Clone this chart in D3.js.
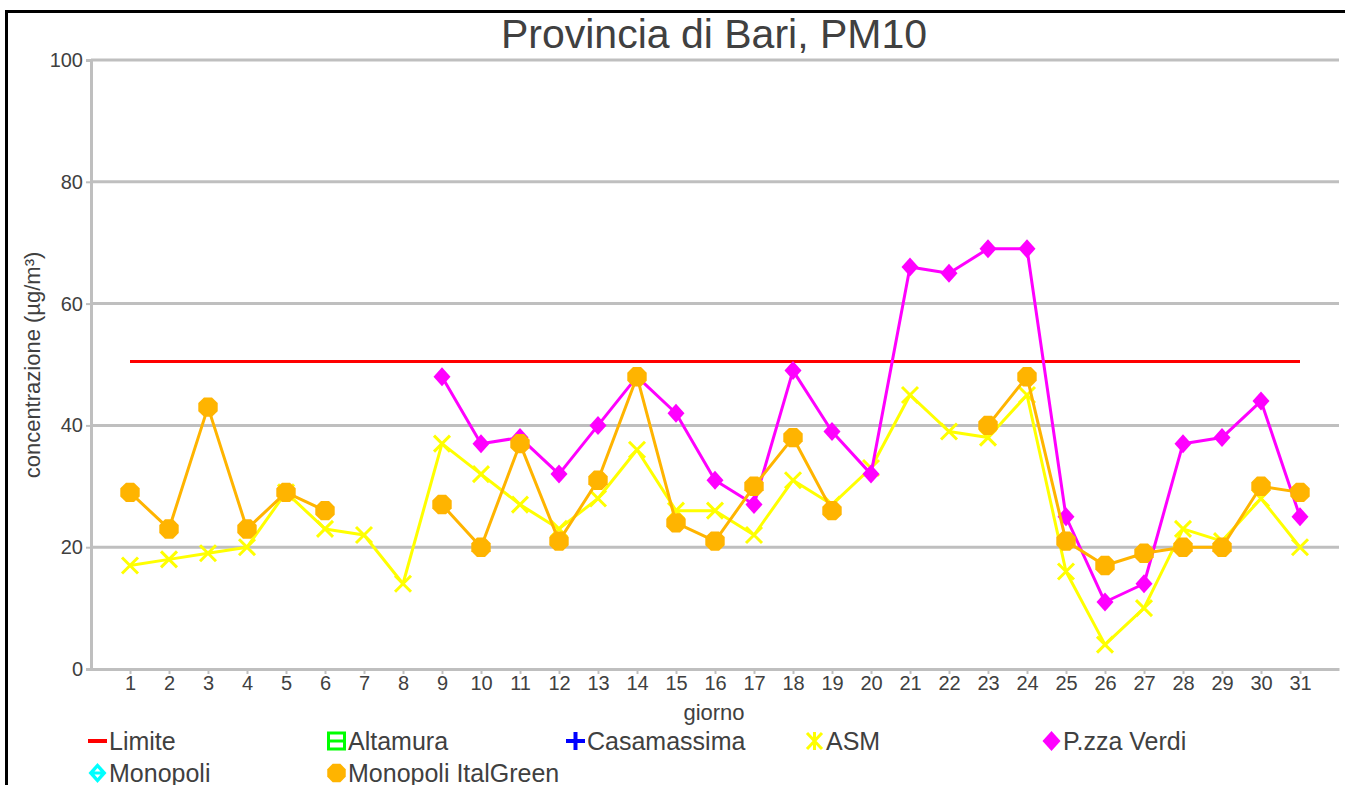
<!DOCTYPE html>
<html>
<head>
<meta charset="utf-8">
<title>Provincia di Bari, PM10</title>
<script src="https://cdn.jsdelivr.net/npm/d3@7"></script>
<style>
    html, body { margin: 0; background: #ffffff; overflow: hidden; }
    #chart { width: 1345px; height: 785px; }
    #chart svg { display: block; }
    text { font-family: "Liberation Sans", Arial, sans-serif; fill: #404040; }
</style>
</head>
<body>
<div id="chart"></div>
<script>
var days = d3.range(1, 32);
var y_ticks = [0, 20, 40, 60, 80, 100];

var limite = 50.5;

var asm = [17, 18, 19, 20, 29, 23, 22, 14, 37, 32, 27, 23, 28, 36, 26, 26,
           22, 31, 27, 33, 45, 39, 38, 45, 16, 4, 10, 23, 21, 28, 20];

var pzza_verdi = [null, null, null, null, null, null, null, null, 48, 37, 38, 32, 40, 48, 42, 31,
                  27, 49, 39, 32, 66, 65, 69, 69, 25, 11, 14, 37, 38, 44, 25];

var monopoli_italgreen = [29, 23, 43, 23, 29, 26, null, null, 27, 20, 37, 21, 31, 48, 24, 21,
                          30, 38, 26, null, null, null, 40, 48, 21, 17, 19, 20, 20, 30, 29];

var legend_rows = [
    ["Limite", "Altamura", "Casamassima", "ASM", "P.zza Verdi"],
    ["Monopoli", "Monopoli ItalGreen"]
];

var colors = {
    "Limite": "#ff0000",
    "Altamura": "#00ff00",
    "Casamassima": "#0000ff",
    "ASM": "#ffff00",
    "P.zza Verdi": "#ff00ff",
    "Monopoli": "#00ffff",
    "Monopoli ItalGreen": "#ffb400"
};

var svg = d3.select("#chart").append("svg")
            .attr("width", 1345)
            .attr("height", 785);

// outer frame (cut by the picture on the right and bottom)
svg.append("path")
   .attr("d", "M6.5,800V11.5H1360")
   .attr("stroke", "#000000")
   .attr("stroke-width", 3)
   .attr("fill", "none");

var x = d3.scaleLinear().domain([0, 32]).range([91, 1339]);
var y = d3.scaleLinear().domain([0, 100]).range([669, 60]);

var grid_color = "#bfbfbf";

// horizontal grid lines
svg.append("g")
   .selectAll("line")
   .data(y_ticks.slice(1))
   .enter().append("line")
   .attr("x1", x(0))
   .attr("x2", x(32))
   .attr("y1", function (d) { return y(d); })
   .attr("y2", function (d) { return y(d); })
   .attr("stroke", grid_color)
   .attr("stroke-width", 3);

// y axis
var y_axis = svg.append("g")
                .attr("transform", "translate(" + x(0) + ",0)")
                .call(d3.axisLeft(y).tickValues(y_ticks).tickSize(5).tickPadding(3));
y_axis.select(".domain").attr("stroke", grid_color).attr("stroke-width", 3);
y_axis.selectAll(".tick line").attr("stroke", grid_color).attr("stroke-width", 2);
y_axis.selectAll(".tick text")
      .style("font-size", "20px")
      .style("font-family", "'Liberation Sans', Arial, sans-serif")
      .attr("fill", "#404040");

// x axis
var x_axis = svg.append("g")
                .attr("transform", "translate(0," + y(0) + ")")
                .call(d3.axisBottom(x).tickValues(days).tickFormat(d3.format("d")).tickSize(5).tickSizeOuter(0).tickPadding(2));
x_axis.select(".domain").attr("stroke", grid_color).attr("stroke-width", 3);
x_axis.selectAll(".tick line").attr("stroke", grid_color).attr("stroke-width", 2);
x_axis.selectAll(".tick text")
      .style("font-size", "20px")
      .style("font-family", "'Liberation Sans', Arial, sans-serif")
      .attr("fill", "#404040");

// titles
svg.append("text")
   .attr("x", 714)
   .attr("y", 48)
   .attr("text-anchor", "middle")
   .style("font-size", "41px")
   .text("Provincia di Bari, PM10");

svg.append("text")
   .attr("x", 714)
   .attr("y", 720)
   .attr("text-anchor", "middle")
   .style("font-size", "22px")
   .text("giorno");

svg.append("text")
   .attr("transform", "translate(40,365)rotate(-90)")
   .attr("text-anchor", "middle")
   .style("font-size", "22px")
   .text("concentrazione (µg/m³)");

// limit line
svg.append("line")
   .attr("x1", x(days[0]))
   .attr("x2", x(days[days.length - 1]))
   .attr("y1", y(limite))
   .attr("y2", y(limite))
   .attr("stroke", colors["Limite"])
   .attr("stroke-width", 3);

function octagon_path(r)
{
    var points = [];
    for (var i = 0; i < 8; i++)
    {
        var angle = Math.PI / 8 + i * Math.PI / 4;
        points.push([r * Math.cos(angle), r * Math.sin(angle)]);
    }
    return "M" + points.join("L") + "Z";
}

function diamond_path(w, h)
{
    return "M0," + (-h) + "L" + w + ",0L0," + h + "L" + (-w) + ",0Z";
}

function cross_path(r)
{
    return "M" + (-r) + "," + (-r) + "L" + r + "," + r + "M" + (-r) + "," + r + "L" + r + "," + (-r);
}

function draw_series(values, name, marker)
{
    var color = colors[name];
    var points = days.map(function (d, i) { return {day: d, value: values[i]}; });

    var line = d3.line()
                 .defined(function (d) { return d.value !== null; })
                 .x(function (d) { return x(d.day); })
                 .y(function (d) { return y(d.value); });

    var group = svg.append("g");

    group.append("path")
         .datum(points)
         .attr("d", line)
         .attr("stroke", color)
         .attr("stroke-width", 3)
         .attr("stroke-linejoin", "round")
         .attr("fill", "none");

    var markers = group.selectAll(".marker")
                       .data(points.filter(function (d) { return d.value !== null; }))
                       .enter().append("path")
                       .attr("class", "marker")
                       .attr("transform", function (d) { return "translate(" + x(d.day) + "," + y(d.value) + ")"; });

    if (marker === "cross")
    {
        markers.attr("d", cross_path(8))
               .attr("stroke", color)
               .attr("stroke-width", 3)
               .attr("fill", "none");
    }
    else if (marker === "diamond")
    {
        markers.attr("d", diamond_path(8.5, 9.5))
               .attr("fill", color);
    }
    else
    {
        markers.attr("d", octagon_path(10.5))
               .attr("fill", color);
    }
}

draw_series(asm, "ASM", "cross");
draw_series(pzza_verdi, "P.zza Verdi", "diamond");
draw_series(monopoli_italgreen, "Monopoli ItalGreen", "octagon");

// legend
var legend_columns = [88, 327, 566, 805, 1042];
var legend_row_y = [741, 773];

function draw_legend_symbol(group, name)
{
    var color = colors[name];
    if (name === "Limite")
    {
        group.append("line").attr("x1", 0).attr("x2", 19).attr("y1", 0).attr("y2", 0)
             .attr("stroke", color).attr("stroke-width", 4);
    }
    else if (name === "Altamura")
    {
        group.append("rect").attr("x", 1.5).attr("y", -8).attr("width", 16).attr("height", 16)
             .attr("fill", "#ffffff").attr("stroke", color).attr("stroke-width", 3);
        group.append("line").attr("x1", 2).attr("x2", 17).attr("y1", 0).attr("y2", 0)
             .attr("stroke", color).attr("stroke-width", 3);
    }
    else if (name === "Casamassima")
    {
        group.append("path").attr("d", "M9.5,-9V9M0,0H19")
             .attr("stroke", color).attr("stroke-width", 4).attr("fill", "none");
    }
    else if (name === "ASM")
    {
        group.append("path").attr("d", "M2,-8L17,8M2,8L17,-8M9.5,-9V9")
             .attr("stroke", color).attr("stroke-width", 3).attr("fill", "none");
    }
    else if (name === "P.zza Verdi")
    {
        group.append("path").attr("transform", "translate(9.5,0)").attr("d", diamond_path(9, 10))
             .attr("fill", color);
    }
    else if (name === "Monopoli")
    {
        group.append("path").attr("transform", "translate(9.5,0)").attr("d", diamond_path(9, 10))
             .attr("fill", color);
        group.append("path").attr("d", "M6.5,-1.5L9.5,-5L12.5,-1.5ZM6.5,1.5L9.5,5L12.5,1.5Z")
             .attr("fill", "#ffffff");
    }
    else
    {
        group.append("path").attr("transform", "translate(9.5,0)").attr("d", octagon_path(10))
             .attr("fill", color);
    }
}

legend_rows.forEach(function (row, row_index)
{
    row.forEach(function (name, column_index)
    {
        var item = svg.append("g")
                      .attr("transform", "translate(" + legend_columns[column_index] + "," + legend_row_y[row_index] + ")");
        draw_legend_symbol(item, name);
        item.append("text")
            .attr("x", 21)
            .attr("y", 8.5)
            .style("font-size", "25px")
            .text(name);
    });
});
</script>
</body>
</html>
